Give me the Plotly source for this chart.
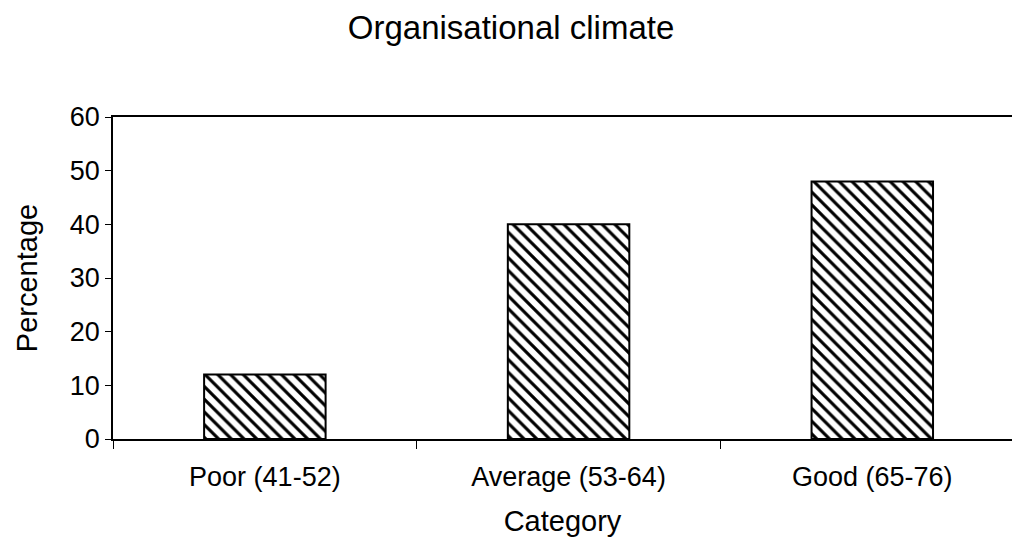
import plotly.graph_objects as go

categories = ["Poor (41-52)", "Average (53-64)", "Good (65-76)"]
percentages = [12, 40, 48]
y_ticks = [0, 10, 20, 30, 40, 50, 60]

FONT = "Liberation Sans, Arial, sans-serif"

fig = go.Figure(
    go.Bar(
        x=categories,
        y=percentages,
        width=0.4,
        marker=dict(
            color="white",
            line=dict(color="black", width=2),
            pattern=dict(shape="\\", fgcolor="#000000", fgopacity=1, bgcolor="white",
                         size=9, solidity=0.35, fillmode="replace"),
        ),
        showlegend=False,
    )
)

fig.update_layout(
    width=1012,
    height=544,
    margin=dict(l=113, r=0, t=117, b=105),
    paper_bgcolor="white",
    plot_bgcolor="white",
    font=dict(family=FONT, color="black"),
    title=dict(
        text="Organisational climate",
        x=0.505,
        xanchor="center",
        y=0.95,
        yanchor="middle",
        font=dict(size=33, family=FONT, color="black"),
    ),
    bargap=0.6,
)

fig.update_xaxes(
    type="category",
    range=[-0.5, 2.46],
    showline=True,
    linecolor="black",
    linewidth=1.5,
    mirror=True,
    ticks="outside",
    tickson="boundaries",
    ticklen=8,
    tickcolor="black",
    tickfont=dict(size=27, family=FONT),
    ticklabelstandoff=13,
    showgrid=False,
    title=dict(text="Category", font=dict(size=29, family=FONT), standoff=20),
)

fig.update_yaxes(
    range=[0, 60],
    tickvals=y_ticks,
    showline=True,
    linecolor="black",
    linewidth=1.5,
    ticks="outside",
    ticklen=6,
    tickcolor="black",
    tickfont=dict(size=27, family=FONT),
    showgrid=False,
    zeroline=False,
    title=dict(text="Percentage", font=dict(size=29, family=FONT), standoff=24),
)

fig.write_html("out.html")
